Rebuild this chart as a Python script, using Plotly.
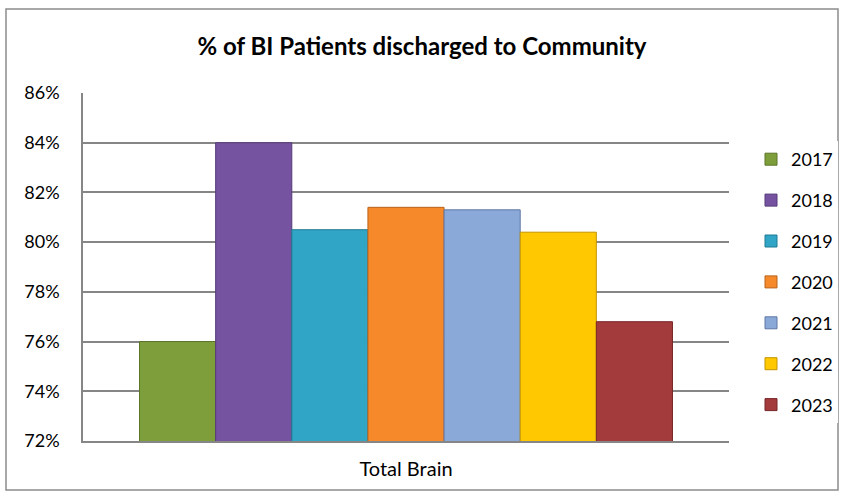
import plotly.graph_objects as go

categories = ["Total Brain"]
years = ["2017", "2018", "2019", "2020", "2021", "2022", "2023"]
values = [0.760, 0.840, 0.805, 0.814, 0.813, 0.804, 0.768]
colors = ["#7E9E3C", "#7653A0", "#31A5C5", "#F68A2A", "#8AA8D8", "#FFC800", "#A33A3C"]
edges = ["#5C7429", "#553A78", "#1F7A93", "#B8621A", "#6078A4", "#C29500", "#782628"]

W, H = 844, 495
L, R, T, B = 83, 115, 93, 54
pw, ph = W - L - R, H - T - B

fig = go.Figure()
for yr, v, c, e in zip(years, values, colors, edges):
    fig.add_trace(go.Bar(
        x=categories, y=[v], name=yr, legendgroup=yr,
        marker=dict(color=c, line=dict(color=e, width=1)),
    ))

def px_x(x):
    return (x - L) / pw

def px_y(y):
    return (H - B - y) / ph

fig.update_layout(
    width=W, height=H,
    margin=dict(l=L, r=R, t=T, b=B, autoexpand=False),
    paper_bgcolor="white", plot_bgcolor="white",
    font=dict(family="Lato, Open Sans, sans-serif", size=18, color="black"),
    barmode="group", bargap=0.175, bargroupgap=0,
    title=dict(text="<b>% of BI Patients discharged to Community</b>",
               x=0.5, xanchor="center", y=1 - 47 / H, yanchor="middle",
               font=dict(size=24, color="black")),
    showlegend=True,
    legend=dict(x=px_x(751), xanchor="left", y=px_y(141), yanchor="top",
                traceorder="grouped", tracegroupgap=14.5,
                font=dict(size=18), itemwidth=30),
    shapes=[dict(type="rect", xref="paper", yref="paper",
                 x0=px_x(6), x1=px_x(838), y0=px_y(490), y1=px_y(9),
                 line=dict(color="#8C8C8C", width=1.5), layer="below")],
)
fig.update_yaxes(range=[0.72, 0.86], dtick=0.02, tickformat=".0%",
                 showgrid=True, gridcolor="#868686", gridwidth=1.5,
                 showline=True, linecolor="#868686", linewidth=1.5,
                 ticks="", ticklabelstandoff=18, zeroline=False)
fig.update_xaxes(showline=True, linecolor="#868686", linewidth=2,
                 ticks="", ticklabelstandoff=9, tickfont=dict(size=20),
                 mirror=False)

fig.write_html("out.html", config={"displayModeBar": False},
               post_script="document.body.style.margin='0';")
